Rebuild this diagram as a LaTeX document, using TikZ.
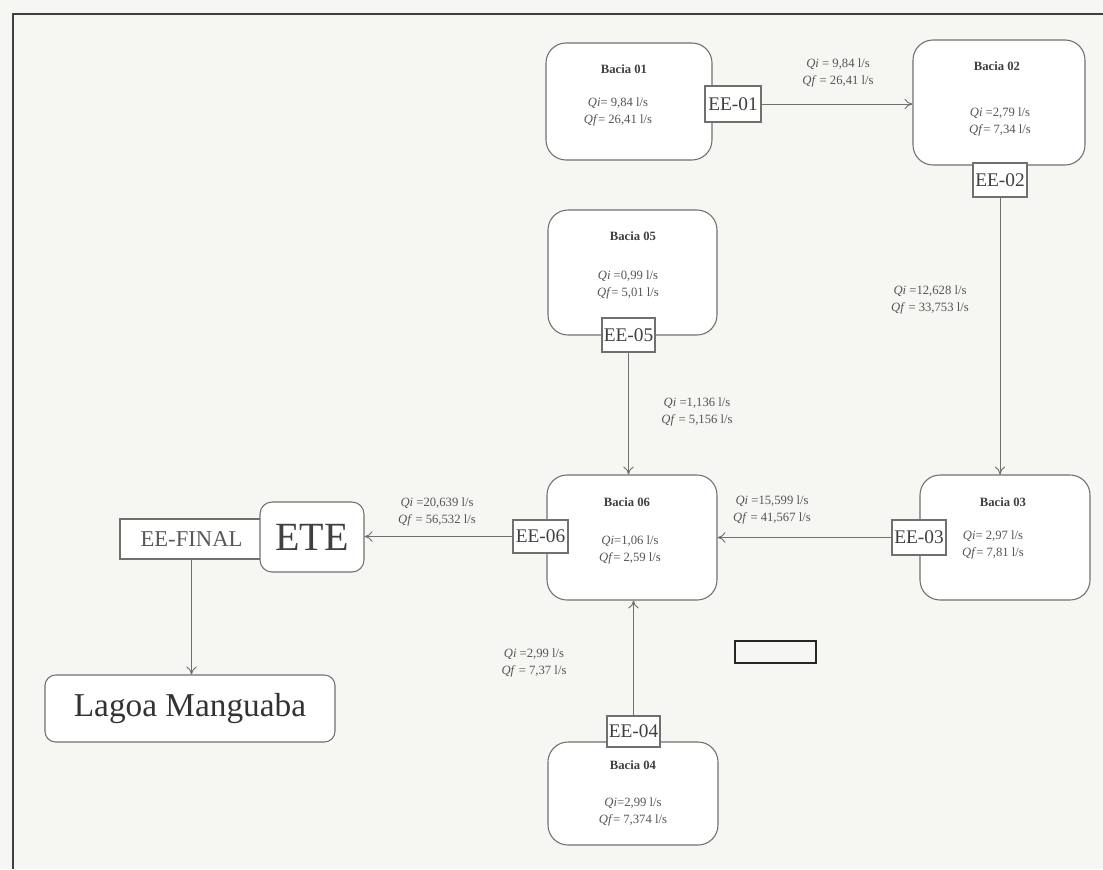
\documentclass[tikz,border=0pt]{standalone}
\usepackage{fontspec}
\setmainfont{Liberation Serif}
\usetikzlibrary{arrows.meta}
\definecolor{bg}{HTML}{F6F6F3}
\definecolor{ln}{HTML}{707070}
\definecolor{tx}{HTML}{555555}
\newcommand{\qq}[1]{\textit{#1}}
\tikzset{
  px/.style={x=0.75pt,y=-0.75pt},
  bacia/.style={draw=ln,line width=0.8pt,rounded corners=15pt,fill=white,inner sep=0pt},
  eebox/.style={draw=ln,line width=0.8pt,fill=white,inner sep=0pt,text=black!75,font=\fontsize{14.5}{15}\selectfont},
  title/.style={font=\fontsize{9.5}{10}\selectfont\bfseries,text=black!75,inner sep=0pt},
  qtext/.style={font=\fontsize{9.5}{12.75}\selectfont,text=tx,align=center,inner sep=0pt},
  flow/.style={draw=ln,line width=0.7pt,-{To[length=6pt,width=8pt]}},
}
\begin{document}
\begin{tikzpicture}[px]
\useasboundingbox (0,0) rectangle (1103,869);
\fill[bg] (0,0) rectangle (1103,869);
% frame
\draw[black!75,line width=1.6pt] (1103,14) -- (13,14) -- (13,869);

% Bacia boxes
\node[bacia,minimum width=124.5pt,minimum height=87.75pt] (b01) at (629,101.5) {};
\node[bacia,minimum width=129pt,minimum height=93.75pt] (b02) at (999,102.5) {};
\node[bacia,minimum width=126.75pt,minimum height=93.75pt] (b05) at (632.5,272.5) {};
\node[bacia,minimum width=127.5pt,minimum height=93.75pt] (b03) at (1005,537.5) {};
\node[bacia,minimum width=127.5pt,minimum height=93.75pt] (b06) at (632,537.5) {};
\node[bacia,minimum width=127.5pt,minimum height=77.25pt] (b04) at (633,793.5) {};

% titles
\node[title] (t01) at (624,69) {Bacia 01};
\node[title] (t02) at (997,66) {Bacia 02};
\node[title] (t05) at (633,236) {Bacia 05};
\node[title] (t03) at (1003,502) {Bacia 03};
\node[title] (t06) at (627,502) {Bacia 06};
\node[title] (t04) at (633,765) {Bacia 04};

% contents
\node[qtext] (q01) at (618,111.5) {\qq{Qi}= 9,84 l/s\\\qq{Qf}= 26,41 l/s};
\node[qtext] (q02) at (1000,121.5) {\qq{Qi} =2,79 l/s\\\qq{Qf}= 7,34 l/s};
\node[qtext] (q05) at (628,284.5) {\qq{Qi} =0,99 l/s\\\qq{Qf}= 5,01 l/s};
\node[qtext] (q03) at (993,544.5) {\qq{Qi}= 2,97 l/s\\\qq{Qf}= 7,81 l/s};
\node[qtext] (q06) at (630,549.5) {\qq{Qi}=1,06 l/s\\\qq{Qf}= 2,59 l/s};
\node[qtext] (q04) at (633,811.5) {\qq{Qi}=2,99 l/s\\\qq{Qf}= 7,374 l/s};

% pumping stations
\node[eebox,minimum width=42pt,minimum height=27pt] (e01) at (733,104) {EE-01};
\node[eebox,minimum width=40.5pt,minimum height=25.5pt] (e02) at (1000,180) {EE-02};
\node[eebox,minimum width=39.75pt,minimum height=25.5pt] (e05) at (628.5,335) {EE-05};
\node[eebox,minimum width=40.5pt,minimum height=26.25pt] (e03) at (919,537.5) {EE-03};
\node[eebox,minimum width=41.25pt,minimum height=24.75pt] (e06) at (540.5,536.5) {EE-06};
\node[eebox,minimum width=39.75pt,minimum height=23.25pt] (e04) at (633.5,731.5) {EE-04};

% ETE, EE-FINAL, Lagoa
\node[draw=ln,line width=0.8pt,fill=white,minimum width=107.25pt,minimum height=30pt,inner sep=0pt,
  font=\fontsize{17}{18}\selectfont,text=black!65] (eef) at (191.5,539) {EE-FINAL};
\node[draw=ln,line width=0.8pt,fill=white,rounded corners=9pt,minimum width=78pt,minimum height=52.5pt,inner sep=0pt,
  font=\fontsize{30}{32}\selectfont,text=black!75] (ete) at (312,537) {ETE};
\node[draw=ln,line width=0.8pt,fill=white,rounded corners=8pt,minimum width=217.5pt,minimum height=50.25pt,inner sep=0pt,
  font=\fontsize{25}{27}\selectfont,text=black!80] (lag) at (190,708.5) {Lagoa Manguaba};

% small empty rectangle
\node[draw=black!85,line width=1.5pt,minimum width=60.75pt,minimum height=16.5pt,inner sep=0pt] (rect) at (775.5,652) {};

% connectors
\draw[flow] (e01.east) -- (e01.east -| b02.west);
\draw[flow] (e02.south) -- (e02.south |- b03.north);
\draw[flow] (e05.south) -- (e05.south |- b06.north);
\draw[flow] (e03.west) -- (e03.west -| b06.east);
\draw[flow] (e06.west) -- (e06.west -| ete.east);
\draw[flow] (e04.north) -- (e04.north |- b06.south);
\draw[flow] (eef.south) -- (eef.south |- lag.north);

% flow labels
\node[qtext] (l01) at (838,73) {\qq{Qi} = 9,84 l/s\\\qq{Qf} = 26,41 l/s};
\node[qtext] (l02) at (930,300) {\qq{Qi} =12,628 l/s\\\qq{Qf} = 33,753 l/s};
\node[qtext] (l05) at (697,412) {\qq{Qi} =1,136 l/s\\\qq{Qf} = 5,156 l/s};
\node[qtext] (l03) at (772,510) {\qq{Qi} =15,599 l/s\\\qq{Qf} = 41,567 l/s};
\node[qtext] (l06) at (437,512) {\qq{Qi} =20,639 l/s\\\qq{Qf} = 56,532 l/s};
\node[qtext] (l04) at (534,663) {\qq{Qi} =2,99 l/s\\\qq{Qf} = 7,37 l/s};
\end{tikzpicture}
\end{document}
